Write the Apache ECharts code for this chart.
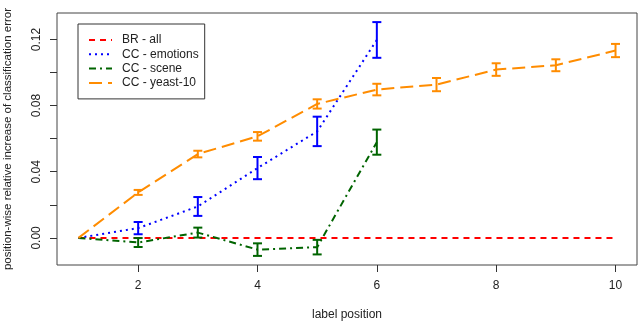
<!DOCTYPE html>
<html>
<head>
<meta charset="utf-8">
<script src="https://cdn.jsdelivr.net/npm/echarts@6/dist/echarts.min.js"></script>
<style>
html, body { margin: 0; padding: 0; background: #fff; }
#main { width: 640px; height: 322px; }
</style>
</head>
<body>
<div id="main"></div>
<script>
// label positions 1..10
var positions = [1, 2, 3, 4, 5, 6, 7, 8, 9, 10];
var brAll = [0, 0, 0, 0, 0, 0, 0, 0, 0, 0];
var ccEmotions = [0, 0.0059, 0.019, 0.0422, 0.0644, 0.1197];
var emotionsErr = [null, 0.0037, 0.0057, 0.0067, 0.0089, 0.0108];
var ccScene = [0, -0.0028, 0.0032, -0.0071, -0.0056, 0.0579];
var sceneErr = [null, 0.0027, 0.003, 0.0038, 0.0044, 0.0076];
var ccYeast = [0, 0.0275, 0.0507, 0.0614, 0.081, 0.0897, 0.0927, 0.1018, 0.1044, 0.1133];
var yeastErr = [null, 0.0015, 0.002, 0.0026, 0.0028, 0.0035, 0.004, 0.0038, 0.0036, 0.004];
var xTicks = [2, 4, 6, 8, 10];
var yTicks = [0, 0.02, 0.04, 0.06, 0.08, 0.1, 0.12];
var yLabels = [0, 0.04, 0.08, 0.12];

var myChart = echarts.init(document.getElementById('main'));

function pairs(vals) {
    var out = [];
    for (var i = 0; i < vals.length; i++) out.push([positions[i], vals[i]]);
    return out;
}
function bars(vals, errs) {
    var out = [];
    for (var i = 0; i < vals.length; i++) {
        if (errs[i] == null) continue;
        out.push([positions[i], vals[i] - errs[i], vals[i] + errs[i]]);
    }
    return out;
}
function errSeries(name, color, data) {
    return {
        name: name,
        type: 'custom',
        data: data,
        z: 3,
        renderItem: function (params, api) {
            var lo = api.coord([api.value(0), api.value(1)]);
            var hi = api.coord([api.value(0), api.value(2)]);
            var w = 4.5;
            var st = { stroke: color, lineWidth: 2, fill: null };
            return {
                type: 'group',
                children: [
                    { type: 'line', shape: { x1: lo[0], y1: lo[1], x2: hi[0], y2: hi[1] }, style: st },
                    { type: 'line', shape: { x1: lo[0] - w, y1: lo[1], x2: lo[0] + w, y2: lo[1] }, style: st },
                    { type: 'line', shape: { x1: hi[0] - w, y1: hi[1], x2: hi[0] + w, y2: hi[1] }, style: st }
                ]
            };
        }
    };
}
function lineSeries(name, color, dash, vals) {
    return {
        name: name,
        type: 'line',
        data: pairs(vals),
        symbol: 'none',
        color: color,
        lineStyle: { color: color, width: 2, type: dash },
        z: 2
    };
}

var axisText = { color: '#222', fontSize: 12, fontFamily: 'Liberation Sans' };

var option = {
    animation: false,
    textStyle: { fontFamily: 'Liberation Sans' },
    grid: {
        left: 57, top: 13, right: 3, bottom: 57,
        containLabel: false, outerBoundsMode: 'none',
        show: true, borderColor: '#444', borderWidth: 1
    },
    legend: {
        orient: 'vertical',
        left: 78, top: 24,
        data: ['BR - all', 'CC - emotions', 'CC - scene', 'CC - yeast-10'],
        itemWidth: 23, itemHeight: 14, itemGap: 2.3,
        padding: [10, 6, 10, 10],
        borderColor: '#333', borderWidth: 1,
        itemStyle: { opacity: 0 },
        textStyle: { color: '#222', fontSize: 12, fontFamily: 'Liberation Sans', padding: [0, 0, 0, 5] }
    },
    xAxis: {
        type: 'value',
        min: 0.64, max: 10.36,
        name: 'label position',
        nameLocation: 'middle', nameGap: 44,
        nameTextStyle: axisText,
        axisLine: { show: false, onZero: false },
        splitLine: { show: false },
        axisTick: { show: true, length: 7, customValues: xTicks, lineStyle: { color: '#333' } },
        axisLabel: Object.assign({ customValues: xTicks, margin: 15 }, axisText)
    },
    yAxis: {
        type: 'value',
        min: -0.0164, max: 0.136,
        name: 'position-wise relative increase of classification error',
        nameLocation: 'middle', nameGap: 43,
        nameTextStyle: { color: '#222', fontSize: 11.5, fontFamily: 'Liberation Sans' },
        axisLine: { show: false, onZero: false },
        splitLine: { show: false },
        axisTick: { show: true, length: 7, customValues: yTicks, lineStyle: { color: '#333' } },
        axisLabel: Object.assign({
            customValues: yLabels, margin: 14, rotate: 90,
            formatter: function (v) { return v.toFixed(2); }
        }, axisText)
    },
    series: [
        lineSeries('BR - all', '#ff0000', [6, 5], brAll),
        lineSeries('CC - emotions', '#0000ff', [2, 4], ccEmotions),
        lineSeries('CC - scene', '#006400', [7, 4, 2, 4], ccScene),
        lineSeries('CC - yeast-10', '#ff8c00', [13, 6], ccYeast),
        errSeries('emotions err', '#0000ff', bars(ccEmotions, emotionsErr)),
        errSeries('scene err', '#006400', bars(ccScene, sceneErr)),
        errSeries('yeast err', '#ff8c00', bars(ccYeast, yeastErr))
    ]
};

myChart.setOption(option);
</script>
</body>
</html>
